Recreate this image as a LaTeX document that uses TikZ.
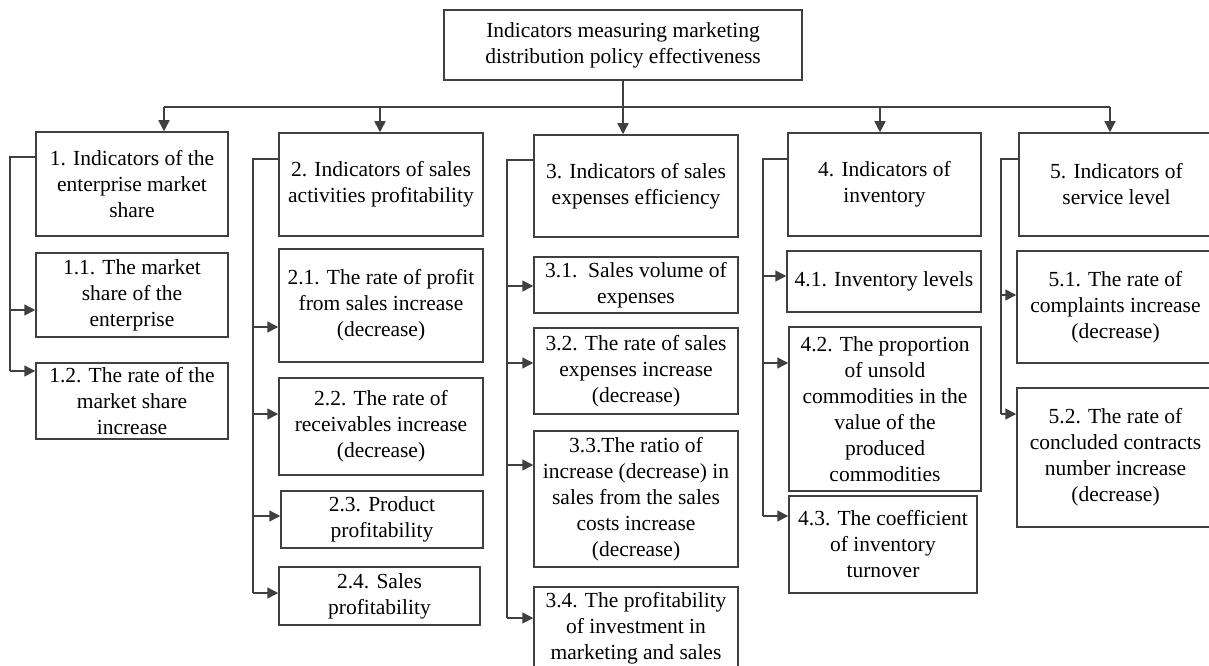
\documentclass[tikz,border=0pt]{standalone}
\usepackage{fontspec}
\setmainfont{Liberation Serif}
\usetikzlibrary{arrows.meta}
\begin{document}
\begin{tikzpicture}[x=1pt,y=-1pt,
  box/.style={draw=black!75, line width=1.5pt, inner sep=0pt, align=center,
    font=\fontsize{21.5}{26}\selectfont, text=black},
  link/.style={draw=black!75, line width=1.5pt},
  arr/.style={link, -{Triangle[length=11pt,width=11pt]}}]
\clip (0,0) rectangle (1209,666);
\fill[white] (0,0) rectangle (1209,666);

\node[box, minimum width=358pt, minimum height=70pt] (top) at (623,45)
  {Indicators measuring marketing\\distribution policy effectiveness};

\node[box, minimum width=192pt, minimum height=104pt] (b1) at (132,184)
  {1. Indicators of the\\enterprise market\\share};
\node[box, minimum width=204pt, minimum height=103pt] (b2) at (381,184.5)
  {2. Indicators of sales\\activities profitability};
\node[box, minimum width=204pt, minimum height=102pt] (b3) at (636,186)
  {3. Indicators of sales\\expenses efficiency};
\node[box, minimum width=193pt, minimum height=103pt] (b4) at (884.5,184.5)
  {4. Indicators of\\inventory};
\node[box, minimum width=195pt, minimum height=103pt] (b5) at (1116.5,184.5)
  {5. Indicators of\\service level};

\node[box, minimum width=192pt, minimum height=84pt] (b11) at (132,295)
  {1.1. The market\\share of the\\enterprise};
\node[box, minimum width=192pt, minimum height=76pt] (b12) at (132,401)
  {1.2. The rate of the\\market share\\increase};

\node[box, minimum width=204pt, minimum height=113pt] (b21) at (381,305.5)
  {2.1. The rate of profit\\from sales increase\\(decrease)};
\node[box, minimum width=204pt, minimum height=97pt] (b22) at (381,426.5)
  {2.2. The rate of\\receivables increase\\(decrease)};
\node[box, minimum width=202pt, minimum height=57pt] (b23) at (382,519.5)
  {2.3. Product\\profitability};
\node[box, minimum width=201pt, minimum height=58pt] (b24) at (379.5,596)
  {2.4. Sales\\profitability};

\node[box, minimum width=204pt, minimum height=56pt] (b31) at (636,285)
  {3.1.\ \ Sales volume of\\expenses};
\node[box, minimum width=204pt, minimum height=86pt] (b32) at (636,371)
  {3.2. The rate of sales\\expenses increase\\(decrease)};
\node[box, minimum width=204pt, minimum height=136pt] (b33) at (636,499)
  {3.3.The ratio of\\increase (decrease) in\\sales from the sales\\costs increase\\(decrease)};
\node[box, minimum width=204pt, minimum height=83pt] (b34) at (636,628.5)
  {3.4. The profitability\\of investment in\\marketing and sales};

\node[box, minimum width=194pt, minimum height=61pt] (b41) at (884,281.5)
  {4.1. Inventory levels};
\node[box, minimum width=192pt, minimum height=164pt] (b42) at (885,409)
  {4.2. The proportion\\of unsold\\commodities in the\\value of the\\produced\\commodities};
\node[box, minimum width=188pt, minimum height=97pt] (b43) at (883,544.5)
  {4.3. The coefficient\\of inventory\\turnover};

\node[box, minimum width=197pt, minimum height=112pt] (b51) at (1115.5,307)
  {5.1. The rate of\\complaints increase\\(decrease)};
\node[box, minimum width=197pt, minimum height=139pt] (b52) at (1115.5,457.5)
  {5.2. The rate of\\concluded contracts\\number increase\\(decrease)};

% top-level connectors
\draw[arr] (top.south) -- (top.south |- b3.north);
\coordinate (bl) at (164,107);
\coordinate (j2) at (380,107);
\coordinate (j4) at (880,107);
\coordinate (br) at (1110,107);
\draw[link] (bl) -- (br);
\draw[arr] (bl) -- (bl |- b1.north);
\draw[arr] (j2) -- (j2 |- b2.north);
\draw[arr] (j4) -- (j4 |- b4.north);
\draw[arr] (br) -- (br |- b5.north);

% column 1
\coordinate (s1) at (10,157);
\coordinate (s11) at (10,310);
\coordinate (s12) at (10,371);
\draw[link] (s1 -| b1.west) -- (s1) -- (s12);
\draw[arr] (s11) -- (s11 -| b11.west);
\draw[arr] (s12) -- (s12 -| b12.west);

% column 2
\coordinate (s2) at (253,159);
\coordinate (s21) at (253,327);
\coordinate (s22) at (253,414);
\coordinate (s23) at (253,516);
\coordinate (s24) at (253,593);
\draw[link] (s2 -| b2.west) -- (s2) -- (s24);
\draw[arr] (s21) -- (s21 -| b21.west);
\draw[arr] (s22) -- (s22 -| b22.west);
\draw[arr] (s23) -- (s23 -| b23.west);
\draw[arr] (s24) -- (s24 -| b24.west);

% column 3
\coordinate (s3) at (507,160);
\coordinate (s31) at (507,286);
\coordinate (s32) at (507,363);
\coordinate (s33) at (507,465);
\coordinate (s34) at (507,618);
\draw[link] (s3 -| b3.west) -- (s3) -- (s34);
\draw[arr] (s31) -- (s31 -| b31.west);
\draw[arr] (s32) -- (s32 -| b32.west);
\draw[arr] (s33) -- (s33 -| b33.west);
\draw[arr] (s34) -- (s34 -| b34.west);

% column 4
\coordinate (s4) at (763,159);
\coordinate (s41) at (763,276);
\coordinate (s42) at (763,363);
\coordinate (s43) at (763,516);
\draw[link] (s4 -| b4.west) -- (s4) -- (s43);
\draw[arr] (s41) -- (s41 -| b41.west);
\draw[arr] (s42) -- (s42 -| b42.west);
\draw[arr] (s43) -- (s43 -| b43.west);

% column 5
\coordinate (s5) at (1001,159);
\coordinate (s51) at (1001,295);
\coordinate (s52) at (1001,414);
\draw[link] (s5 -| b5.west) -- (s5) -- (s52);
\draw[arr] (s51) -- (s51 -| b51.west);
\draw[arr] (s52) -- (s52 -| b52.west);
\end{tikzpicture}
\end{document}
